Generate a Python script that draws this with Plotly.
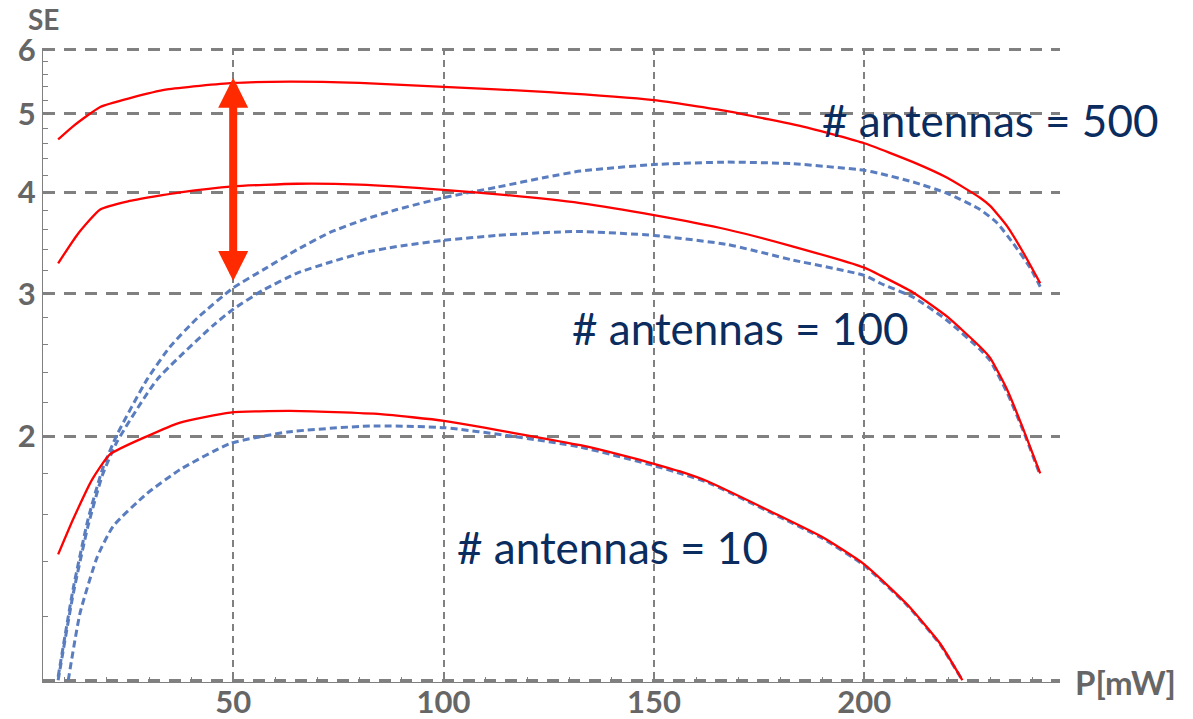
import plotly.graph_objects as go
import math

# ---- data (P in mW, SE) ----
p_red_500 = [8.4, 12, 18.4, 25.5, 34.3, 50, 63.5, 80, 100, 125, 150, 167.4, 187.1, 200, 211.6, 219.7, 227.5, 229.9, 234, 237.8, 241.8]
se_red_500 = [4.65, 4.83, 5.10, 5.23, 5.36, 5.46, 5.48, 5.46, 5.40, 5.32, 5.20, 5.04, 4.80, 4.60, 4.36, 4.17, 3.94, 3.85, 3.63, 3.37, 3.09]

p_blue_500 = [8.4, 12.0, 15.5, 18.9, 22.4, 29.5, 35, 41.5, 50, 57.1, 65.2, 73, 80.9, 88.9, 99.9, 112.7, 124.6, 132.5, 150, 167.4, 183.1, 200, 203.8, 211.6, 219.7, 227.5, 231.5, 235.4, 239.4, 241.8]
se_blue_500 = [1.01, 1.30, 1.58, 1.82, 2.01, 2.35, 2.58, 2.80, 3.05, 3.21, 3.40, 3.57, 3.70, 3.81, 3.94, 4.06, 4.18, 4.25, 4.33, 4.36, 4.34, 4.26, 4.22, 4.12, 3.99, 3.81, 3.67, 3.46, 3.23, 3.06]

p_red_100 = [8.4, 13, 18.4, 25, 37.4, 50, 65.2, 80, 100, 115, 132.5, 150, 167.4, 183.1, 200, 203.8, 211.6, 219.7, 227.5, 229.9, 234, 237.8, 241.8]
se_red_100 = [3.27, 3.55, 3.81, 3.90, 4.00, 4.07, 4.10, 4.09, 4.03, 3.97, 3.88, 3.75, 3.60, 3.43, 3.23, 3.16, 3.01, 2.81, 2.58, 2.50, 2.28, 2.04, 1.80]

p_blue_100 = [8.4, 12, 15.5, 18.9, 22.4, 31.9, 45.2, 50, 57.1, 65.2, 73, 80.9, 88.9, 99.9, 112.7, 124.6, 132.5, 150, 167.4, 183.1, 200, 203.8, 211.6, 219.7, 227.5, 229.9, 234, 237.8, 241.8]
se_blue_100 = [1.00, 1.28, 1.55, 1.79, 1.97, 2.35, 2.74, 2.87, 3.03, 3.18, 3.28, 3.37, 3.43, 3.49, 3.54, 3.57, 3.58, 3.54, 3.45, 3.30, 3.16, 3.09, 2.97, 2.78, 2.56, 2.48, 2.26, 2.03, 1.79]

p_red_10 = [8.4, 11.96, 16.5, 20.7, 29.5, 37.4, 49.3, 63.5, 85, 100.1, 116.5, 132.5, 146.7, 150, 156.2, 162.7, 178.3, 190.2, 200, 210.2, 218, 223.3]
se_red_10 = [1.43, 1.58, 1.77, 1.90, 2.00, 2.08, 2.14, 2.15, 2.13, 2.09, 2.02, 1.95, 1.87, 1.85, 1.81, 1.76, 1.61, 1.50, 1.39, 1.24, 1.11, 1.0]

p_blue_10 = [10.8, 13.6, 17.7, 21.5, 29.5, 37.4, 49.3, 63, 82.6, 100.1, 116.5, 132.5, 150, 156.2, 162.7, 178.3, 190.2, 200, 210.2, 218, 223.3]
se_blue_10 = [1.0, 1.21, 1.42, 1.55, 1.70, 1.82, 1.96, 2.025, 2.06, 2.05, 2.00, 1.94, 1.84, 1.80, 1.755, 1.605, 1.495, 1.385, 1.237, 1.107, 1.0]

x_ticks = [50, 100, 150, 200]
y_ticks = [1, 2, 3, 4, 5, 6]
y_ticktext = ["", "2", "3", "4", "5", "6"]
labels = ["# antennas = 500", "# antennas = 100", "# antennas = 10"]
label_pos = [(189.5, 4.92), (130.1, 2.72), (102.8, 1.46)]
arrow_p = 50

RED = "#ff0000"
BLUE = "#5a7dbf"
GRID = "#808080"
TXT = "#666666"
NAVY = "#0a2c5e"

fig = go.Figure()

def add_line(x, y, dashed):
    fig.add_trace(go.Scatter(
        x=x, y=y, mode="lines",
        line=dict(color=BLUE if dashed else RED, width=3 if dashed else 2.3,
                  dash="7px,4px" if dashed else "solid", shape="spline", smoothing=0.5),
        hoverinfo="skip", showlegend=False))

add_line(p_blue_10, se_blue_10, True)
add_line(p_blue_100, se_blue_100, True)
add_line(p_blue_500, se_blue_500, True)
add_line(p_red_10, se_red_10, False)
add_line(p_red_100, se_red_100, False)
add_line(p_red_500, se_red_500, False)

def interp(xs, ys, x0):
    for i in range(len(xs) - 1):
        if xs[i] <= x0 <= xs[i + 1]:
            t = (x0 - xs[i]) / (xs[i + 1] - xs[i])
            return ys[i] + t * (ys[i + 1] - ys[i])
    return ys[-1]

top = interp(p_red_500, se_red_500, arrow_p) * 1.015
bottom = interp(p_blue_500, se_blue_500, arrow_p) * 1.015

fig.add_annotation(x=arrow_p, y=math.log10(top), ax=arrow_p, ay=math.log10(bottom),
                   xref="x", yref="y", axref="x", ayref="y", text="",
                   showarrow=True, arrowhead=2, startarrowhead=2, arrowside="end+start",
                   arrowwidth=8, arrowsize=0.75, startarrowsize=0.75, arrowcolor="#ff2a00",
                   standoff=0, startstandoff=0)

for lab, (lx, ly) in zip(labels, label_pos):
    fig.add_annotation(x=lx, y=math.log10(ly), xref="x", yref="y", text=lab,
                       showarrow=False, xanchor="left", yanchor="middle",
                       font=dict(family="Lato", size=44, color=NAVY))

fig.add_annotation(x=0.0, y=1.045, xref="paper", yref="paper", text="SE", showarrow=False,
                   xanchor="center", yanchor="middle",
                   font=dict(family="Lato", size=28, color=TXT, weight="bold"))
fig.add_annotation(x=1.0128, y=0.0, xref="paper", yref="paper", text="P[mW]", showarrow=False,
                   xanchor="left", yanchor="middle",
                   font=dict(family="Lato", size=33, color=TXT, weight="bold"))

minor_x = [v for v in range(10, 250, 10) if v not in x_ticks]
minor_y = [round(1 + 0.2 * k, 1) for k in range(1, 25) if abs((1 + 0.2 * k) - round(1 + 0.2 * k)) > 1e-6]

TICKFONT = dict(family="Lato", size=31, color=TXT, weight="bold")

fig.update_xaxes(range=[4.8, 246.5], tickmode="array", tickvals=x_ticks,
                 ticks="inside", ticklen=6, tickcolor=GRID, tickwidth=1,
                 showline=True, linecolor=GRID, linewidth=1,
                 showgrid=True, gridcolor=GRID, gridwidth=2, griddash="7px,5px",
                 zeroline=False, ticklabelstandoff=-7, automargin=False,
                 tickfont=TICKFONT,
                 minor=dict(tickmode="array", tickvals=minor_x, ticks="inside", ticklen=5,
                            tickcolor=GRID, showgrid=False))
fig.update_yaxes(type="log", range=[math.log10(0.995), math.log10(6.03)], tickmode="array",
                 tickvals=y_ticks, ticktext=y_ticktext,
                 ticks="inside", ticklen=8, tickcolor=GRID, tickwidth=1,
                 showline=True, linecolor=GRID, linewidth=1,
                 showgrid=True, gridcolor=GRID, gridwidth=2.5, griddash="12px,9px",
                 zeroline=False, automargin=False,
                 tickfont=TICKFONT,
                 minor=dict(tickmode="array", tickvals=minor_y, ticks="inside", ticklen=5,
                            tickcolor=GRID, showgrid=False))

fig.update_layout(width=1193, height=719, margin=dict(l=43, r=133, t=48, b=37),
                  paper_bgcolor="white", plot_bgcolor="white", showlegend=False)

fig.write_html("out.html")
